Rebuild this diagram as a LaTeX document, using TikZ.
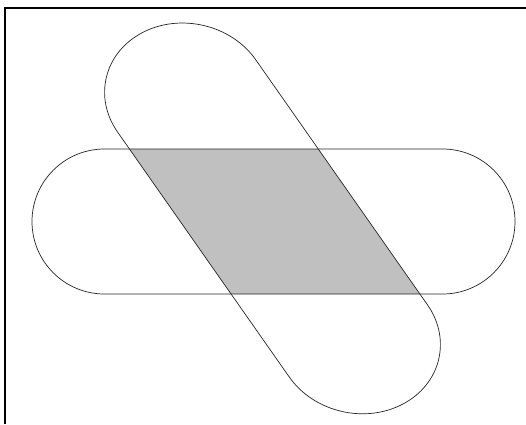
\documentclass[tikz,border=0pt]{standalone}
\usepackage{tikz}
\definecolor{overlapgray}{RGB}{192,192,192}
\tikzset{
  outline/.style={draw=black!85, line width=0.7pt},
  framerule/.style={draw=black, line width=1.8pt},
  diagframe/.style={x=1pt, y=1pt, cm={44.37,-63.31,69.05,36.18,(272.5,205.6)}}
}
\newcommand{\HStadPath}{(104.5,130) -- (442.5,130) arc[start angle=-90,end angle=90,radius=72.5] -- (104.5,275) arc[start angle=90,end angle=270,radius=72.5] -- cycle}
\newcommand{\DStadPath}{(-1.934,-1) -- (1.934,-1) arc[start angle=-90,end angle=90,radius=1] -- (-1.934,1) arc[start angle=90,end angle=270,radius=1] -- cycle}
\begin{document}
\begin{tikzpicture}[x=1pt,y=1pt]
  \useasboundingbox (0,0) rectangle (526,424);
  \fill[white] (0,0) rectangle (526,424);
  % frame (top and left rules)
  \coordinate (ftl) at (5,416);
  \coordinate (ftr) at (526,416);
  \coordinate (fbl) at (5,0);
  \draw[framerule] (fbl) -- (ftl) -- (ftr);
  % shaded overlap
  \begin{scope}
    \clip \HStadPath;
    \begin{scope}[diagframe]
      \fill[overlapgray] \DStadPath;
    \end{scope}
  \end{scope}
  % outlines
  \draw[outline] \HStadPath;
  \begin{scope}[diagframe]
    \draw[outline] \DStadPath;
  \end{scope}
\end{tikzpicture}
\end{document}
